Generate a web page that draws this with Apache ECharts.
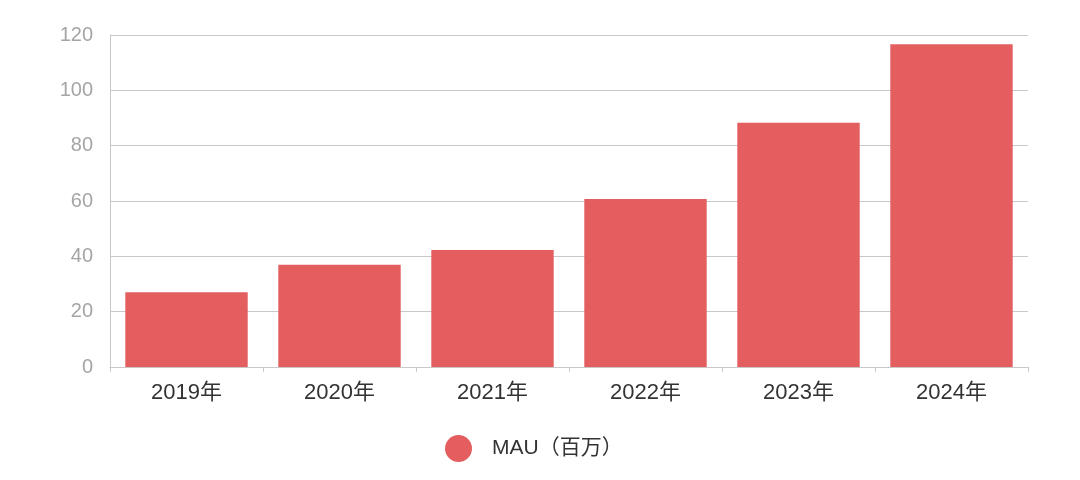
<!DOCTYPE html>
<html><head><meta charset="utf-8">
<script src="https://cdn.jsdelivr.net/npm/echarts@6/dist/echarts.min.js"></script>
<style>html,body{margin:0;padding:0;background:#fff}#c{width:1080px;height:480px}</style>
</head><body><div id="c"></div>
<script>
const categories = ['2019年','2020年','2021年','2022年','2023年','2024年'];
const mauValues = [27, 37, 42.3, 60.7, 88.3, 116.7];
const seriesName = 'MAU（百万）';
const yTicks = [0, 20, 40, 60, 80, 100, 120];
const FONT = '"Liberation Sans", Arial, "Noto Sans CJK SC", sans-serif';

const chart = echarts.init(document.getElementById('c'));
chart.setOption({
  animation: false,
  grid: {left: 110, right: 52, top: 35, bottom: 113},
  legend: {
    top: 430, left: 440,
    icon: 'circle', itemWidth: 27, itemHeight: 27, itemGap: 10,
    textStyle: {fontSize: 21, color: '#333', fontFamily: FONT, padding: [0, 0, 0, 15]},
    data: [seriesName]
  },
  xAxis: {
    type: 'category', data: categories,
    axisLine: {lineStyle: {color: '#c8c8c8'}},
    axisTick: {show: true, length: 5, lineStyle: {color: '#c8c8c8'}},
    axisLabel: {fontSize: 22, color: '#333', margin: 15, fontFamily: FONT}
  },
  yAxis: {
    type: 'value', min: yTicks[0], max: yTicks[yTicks.length-1], interval: 20,
    axisLine: {show: true, lineStyle: {color: '#c8c8c8'}},
    axisTick: {show: false},
    splitLine: {lineStyle: {color: '#c8c8c8', width: 1.2}},
    axisLabel: {fontSize: 20, color: '#a5a5a5', margin: 17, fontFamily: FONT}
  },
  series: [{
    name: seriesName, type: 'bar', data: mauValues,
    barCategoryGap: '20%',
    itemStyle: {color: '#e45e60'}
  }]
});
</script></body></html>
